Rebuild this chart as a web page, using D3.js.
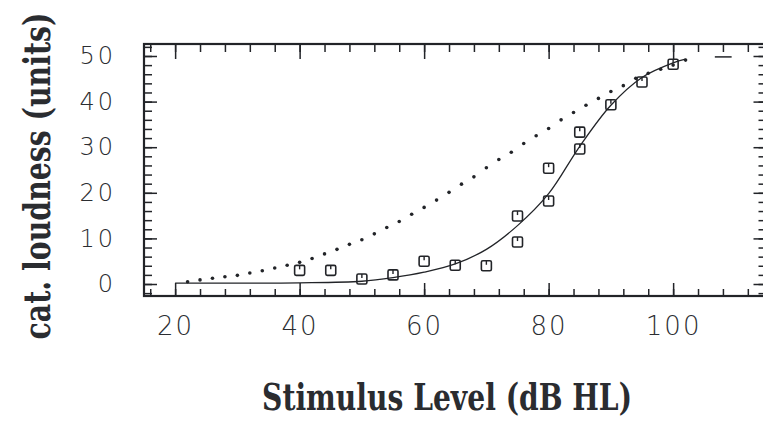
<!DOCTYPE html>
<html>
<head>
<meta charset="utf-8">
<script src="https://cdn.jsdelivr.net/npm/d3@7/dist/d3.min.js"></script>
<style>
  html, body { margin: 0; padding: 0; background: #ffffff; }
  svg { display: block; }
</style>
</head>
<body>
<svg id="chart" width="763" height="421"></svg>
<script>
// Measured categorical loudness (squares)
const levelX = [40, 45, 50, 55, 60, 65, 70, 75, 75, 80, 80, 85, 85, 90, 95, 100];
const loudY  = [3, 3, 1.1, 2, 5, 4.1, 4, 14.9, 9.2, 25.4, 18.2, 33.3, 29.6, 39.3, 44.3, 48.2];

// Fitted loudness function (solid line)
const fitX = [20, 30, 40, 50, 55, 60, 65, 70, 75, 80, 85, 90, 95, 100, 102];
const fitY = [0.2, 0.2, 0.25, 0.6, 1.4, 2.6, 4.4, 7.6, 12.8, 19.8, 30.2, 39.2, 45.3, 48.5, 49.3];

// Normal-hearing reference function (dotted)
const refX = [22, 24, 26, 28, 30, 32, 34, 36, 38, 40, 42, 44, 46, 48, 50, 52, 54, 56, 58, 60,
              62, 64, 66, 68, 70, 72, 74, 76, 78, 80, 82, 84, 86, 88, 90, 92, 94, 96, 98, 100, 102];
const refY = [0.5, 0.9, 1.25, 1.6, 1.9, 2.4, 2.9, 3.5, 4.1, 4.75, 5.6, 6.6, 7.6, 8.7, 9.7, 11.0, 12.4, 13.7, 15.3, 16.8,
              18.4, 20.1, 21.9, 23.5, 25.5, 27.3, 28.9, 30.8, 32.5, 34.1, 36.0, 37.6, 39.2, 40.7, 42.2, 43.5, 45.1, 46.2, 47.1, 48.0, 49.1];

// Axis ticks
const xMajor = [20, 40, 60, 80, 100];
const xMinor = d3.range(16, 115, 4);
const yMajor = [0, 10, 20, 30, 40, 50];
const yMinor = d3.range(-2, 53, 2);

// Short stray stroke near the upper right corner
const markX = [106.7, 109.4];
const markY = [49.8, 49.8];

const ink = "#222428";
const svg = d3.select("#chart");

const x = d3.scaleLinear().domain([15, 115]).range([144, 766.5]);
const y = d3.scaleLinear().domain([-2.63, 52.63]).range([296, 44]);

const x0 = x.range()[0], x1 = x.range()[1];
const y0 = y.range()[0], y1 = y.range()[1];

// Frame
svg.append("rect")
  .attr("x", x0).attr("y", y1)
  .attr("width", x1 - x0).attr("height", y0 - y1)
  .attr("fill", "none").attr("stroke", ink).attr("stroke-width", 2.2);

function styleAxis(g) {
  g.select(".domain").remove();
  g.selectAll(".tick line").attr("stroke", ink).attr("stroke-width", 1.5);
  g.selectAll(".tick text")
    .attr("fill", "#2b2d31")
    .style("font-family", "'DejaVu Sans', sans-serif")
    .style("font-weight", "200");
}

// Bottom axis: minor + major (inward ticks) with labels
svg.append("g").attr("transform", `translate(0,${y0})`)
  .call(d3.axisBottom(x).tickValues(xMinor).tickSize(-7).tickFormat(""))
  .call(styleAxis);
svg.append("g").attr("transform", `translate(0,${y0})`)
  .call(d3.axisBottom(x).tickValues(xMajor).tickSize(-13).tickPadding(21).tickFormat(d3.format("d")))
  .call(styleAxis)
  .call(g => g.selectAll(".tick text").style("font-size", "26px").style("letter-spacing", "2px"));

// Top axis
svg.append("g").attr("transform", `translate(0,${y1})`)
  .call(d3.axisTop(x).tickValues(xMinor).tickSize(-8).tickFormat(""))
  .call(styleAxis);
svg.append("g").attr("transform", `translate(0,${y1})`)
  .call(d3.axisTop(x).tickValues(xMajor).tickSize(-15).tickFormat(""))
  .call(styleAxis);

// Left axis
svg.append("g").attr("transform", `translate(${x0},0)`)
  .call(d3.axisLeft(y).tickValues(yMinor).tickSize(-8).tickFormat(""))
  .call(styleAxis);
svg.append("g").attr("transform", `translate(${x0},0)`)
  .call(d3.axisLeft(y).tickValues(yMajor).tickSize(-13).tickPadding(28).tickFormat(d3.format("d")))
  .call(styleAxis)
  .call(g => g.selectAll(".tick text").style("font-size", "24px").style("letter-spacing", "3px"));

// Right axis
svg.append("g").attr("transform", `translate(${x1},0)`)
  .call(d3.axisRight(y).tickValues(yMinor).tickSize(-8).tickFormat(""))
  .call(styleAxis);
svg.append("g").attr("transform", `translate(${x1},0)`)
  .call(d3.axisRight(y).tickValues(yMajor).tickSize(-13).tickFormat(""))
  .call(styleAxis);

// Dotted reference function
svg.append("g").selectAll("circle")
  .data(refX.map((v, i) => [v, refY[i]]))
  .join("circle")
  .attr("cx", d => x(d[0])).attr("cy", d => y(d[1]))
  .attr("r", 1.8).attr("fill", ink);

// Fitted curve
const line = d3.line().x(d => x(d[0])).y(d => y(d[1])).curve(d3.curveCatmullRom.alpha(0.5));
svg.append("path")
  .datum(fitX.map((v, i) => [v, fitY[i]]))
  .attr("d", line)
  .attr("fill", "none").attr("stroke", ink).attr("stroke-width", 1.3);

// Measured points: open squares with a short notch at the top
const s = 10;
const pts = svg.append("g").selectAll("g")
  .data(levelX.map((v, i) => [v, loudY[i]]))
  .join("g")
  .attr("transform", d => `translate(${x(d[0])},${y(d[1])})`);
pts.append("rect")
  .attr("x", -s / 2).attr("y", -s / 2).attr("width", s).attr("height", s)
  .attr("rx", 1.5)
  .attr("fill", "none").attr("stroke", ink).attr("stroke-width", 1.6);
pts.append("line")
  .attr("x1", 0).attr("x2", 0).attr("y1", -s / 2).attr("y2", -s / 2 + 4)
  .attr("stroke", ink).attr("stroke-width", 1.4);

// Stray stroke
svg.append("line")
  .attr("x1", x(markX[0])).attr("x2", x(markX[1]))
  .attr("y1", y(markY[0])).attr("y2", y(markY[1]))
  .attr("stroke", ink).attr("stroke-width", 1.5);

// Axis titles: condensed horizontally to a fixed run length
const titleFont = "'DejaVu Serif', 'Liberation Serif', serif";
function title(cx, cy, angle, size, length, label) {
  const g = svg.append("g");
  const t = g.append("text")
    .attr("text-anchor", "middle")
    .style("font-family", titleFont).style("font-weight", "bold").style("font-size", size + "px")
    .attr("fill", "#2a2c30")
    .text(label);
  const natural = t.node().getComputedTextLength();
  g.attr("transform", `translate(${cx},${cy}) rotate(${angle}) scale(${length / natural},1)`);
}
title(447, 410, 0, 38, 370, "Stimulus Level (dB HL)");
title(50, 176, -90, 37, 327, "cat. loudness (units)");
</script>
</body>
</html>
